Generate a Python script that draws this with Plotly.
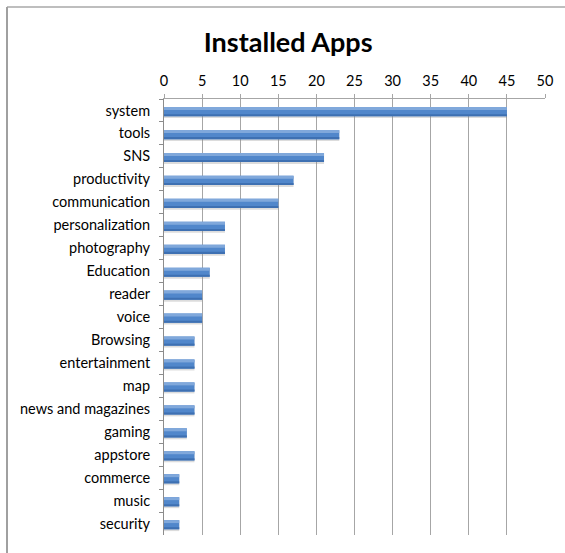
import plotly.graph_objects as go

categories = ["system", "tools", "SNS", "productivity", "communication", "personalization",
              "photography", "Education", "reader", "voice", "Browsing", "entertainment",
              "map", "news and magazines", "gaming", "appstore", "commerce", "music", "security"]
values = [45, 23, 21, 17, 15, 8, 8, 6, 5, 5, 4, 4, 4, 4, 3, 4, 2, 2, 2]
x_ticks = list(range(0, 51, 5))

FONT = "Lato, 'Open Sans', sans-serif"

fig = go.Figure()
# shadow
fig.add_trace(go.Bar(y=categories, x=values, orientation="h", width=0.44, offset=-0.11,
                     marker=dict(color="rgba(140,140,140,0.3)", line=dict(width=0)),
                     hoverinfo="skip", showlegend=False))
# main bar
fig.add_trace(go.Bar(y=categories, x=values, orientation="h", width=0.40, offset=-0.15,
                     marker=dict(color="#5187CB", line=dict(width=0)), showlegend=False))
# top highlight
fig.add_trace(go.Bar(y=categories, x=values, orientation="h", width=0.13, offset=-0.15,
                     marker=dict(color="#80A8DB", line=dict(width=0)),
                     hoverinfo="skip", showlegend=False))
# bottom darker edge
fig.add_trace(go.Bar(y=categories, x=values, orientation="h", width=0.09, offset=0.16,
                     marker=dict(color="#3E70B2", line=dict(width=0)),
                     hoverinfo="skip", showlegend=False))

W, H = 565, 553
l, r, t, b = 164, 20, 99, 18
pw, ph = W - l - r, H - t - b

fig.update_layout(
    width=W, height=H,
    margin=dict(l=l, r=r, t=t, b=b),
    paper_bgcolor="white", plot_bgcolor="white",
    barmode="overlay",
    title=dict(text="<b>Installed Apps</b>", x=0.51, xanchor="center", y=1 - 43 / H, yanchor="middle",
               font=dict(family=FONT, size=27, color="black")),
    font=dict(family=FONT, size=14.5, color="black"),
    xaxis=dict(side="top", range=[0, 50], tickvals=x_ticks, showgrid=True, gridcolor="#A6A6A6",
               gridwidth=1, showline=True, linecolor="#A6A6A6", linewidth=1, ticks="outside",
               ticklen=4, tickcolor="#A6A6A6", zeroline=False, tickfont=dict(size=14.5),
               ticklabelstandoff=2, fixedrange=True),
    yaxis=dict(autorange="reversed", showline=True, linecolor="#8C8C8C", linewidth=1, ticks="outside",
               ticklen=4, tickcolor="#8C8C8C", tickson="boundaries", showgrid=False,
               tickfont=dict(size=14.5), ticklabelstandoff=10),
    shapes=[
        dict(type="line", xref="paper", yref="paper", x0=(7 - l) / pw, x1=(W + 5 - l) / pw,
             y0=1 + (t - 7) / ph, y1=1 + (t - 7) / ph, line=dict(color="#A8A8A8", width=1.5)),
        dict(type="line", xref="paper", yref="paper", x0=(7 - l) / pw, x1=(7 - l) / pw,
             y0=1 + (t - 7) / ph, y1=-(b + 5) / ph, line=dict(color="#A0A0A0", width=2)),
    ],
)

fig.write_html("out.html")
